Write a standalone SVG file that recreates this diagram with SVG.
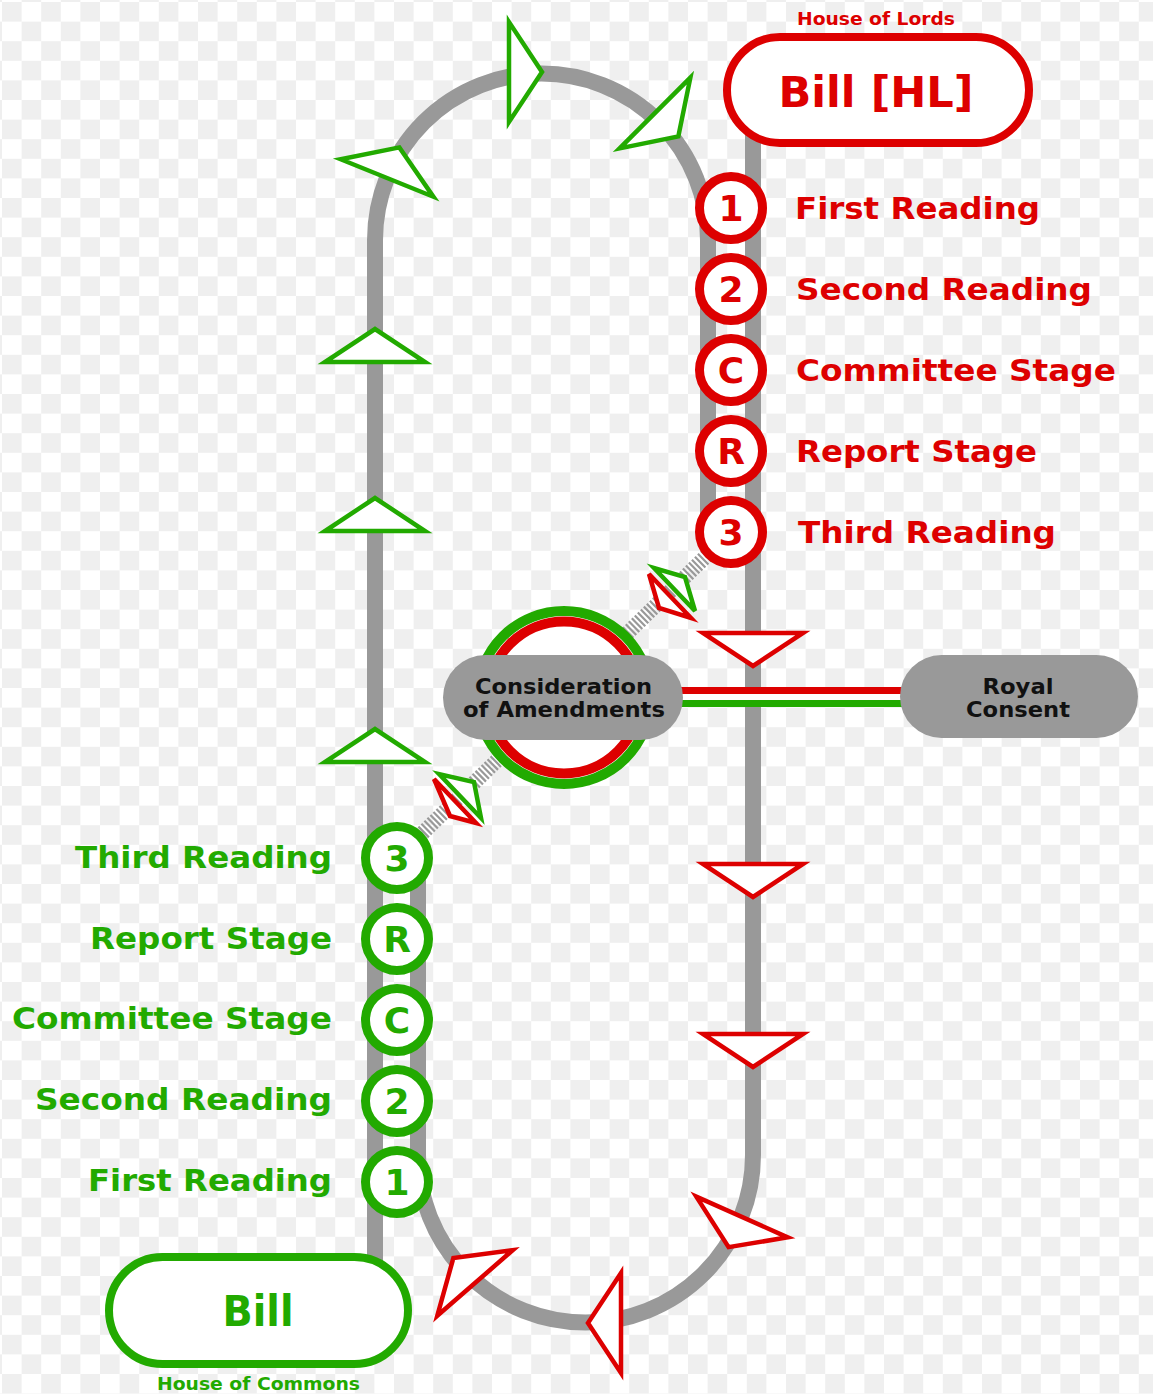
<svg xmlns="http://www.w3.org/2000/svg" xmlns:xlink="http://www.w3.org/1999/xlink" width="1153" height="1394" viewBox="0 0 1153 1394">
<style>
.track{fill:none;stroke:#999999;stroke-width:16}
.hatch{fill:none;stroke:#999999;stroke-width:15;stroke-dasharray:2.2 2}
.ga{fill:#ffffff;stroke:#22aa00;stroke-width:4.5;stroke-linejoin:miter}
.ra{fill:#ffffff;stroke:#dd0000;stroke-width:4.5;stroke-linejoin:miter}
.rc{fill:#ffffff;stroke:#dd0000;stroke-width:9}
.gc{fill:#ffffff;stroke:#22aa00;stroke-width:9}
.t{font-family:"DejaVu Sans","Verdana",sans-serif;font-weight:bold}
.red{fill:#dd0000}
.green{fill:#22aa00}
.dark{fill:#111111}
.pill{fill:#999999}
</style>
<defs>
<pattern id="cb" x="2" y="2" width="39.2" height="39.2" patternUnits="userSpaceOnUse">
<rect x="0" y="0" width="39.2" height="39.2" fill="#ffffff"/>
<rect x="0" y="0" width="19.6" height="19.6" fill="#efefef"/>
<rect x="19.6" y="19.6" width="19.6" height="19.6" fill="#efefef"/>
</pattern>
<polygon id="arr" points="0,-50 0,50 33,0"/>
</defs>
<rect x="0" y="0" width="1153" height="1394" fill="url(#cb)"/>

<g id="connectors">
<path class="track" d="M375,1300 L375,240 A166.5,166.5 0 0 1 708,240 L708,532"/>
<path class="track" d="M753,100 L753,1155 A167.5,167.5 0 0 1 418,1155 L418,858"/>
<line class="hatch" x1="731" y1="532" x2="397" y2="858"/>
<g id="arrows-green">
<use xlink:href="#arr" class="ga" transform="translate(375,362) rotate(-90)"/>
<use xlink:href="#arr" class="ga" transform="translate(375,531) rotate(-90)"/>
<use xlink:href="#arr" class="ga" transform="translate(375,762) rotate(-90)"/>
<use xlink:href="#arr" class="ga" transform="translate(387,178) rotate(-68)"/>
<use xlink:href="#arr" class="ga" transform="translate(509,72) rotate(0)"/>
<use xlink:href="#arr" class="ga" transform="translate(655,113) rotate(45)"/>
</g>
<g id="arrows-red">
<use xlink:href="#arr" class="ra" transform="translate(753,633) rotate(90)"/>
<use xlink:href="#arr" class="ra" transform="translate(753,864) rotate(90)"/>
<use xlink:href="#arr" class="ra" transform="translate(753,1034) rotate(90)"/>
<use xlink:href="#arr" class="ra" transform="translate(742,1217) rotate(114)"/>
<use xlink:href="#arr" class="ra" transform="translate(621,1323) rotate(180)"/>
<use xlink:href="#arr" class="ra" transform="translate(475,1283) rotate(-131)"/>
</g>
<g id="arrows-diagonal">
<polygon class="ga" points="654,568 695,611 685,577"/>
<polygon class="ra" points="649,574 691,618 659,608"/>
<polygon class="ga" points="439,774 481,818 474,782"/>
<polygon class="ra" points="434,779 476,823 450,816"/>
</g>
<line x1="600" y1="697" x2="905" y2="697" stroke="#ffffff" stroke-width="20"/>
<line x1="600" y1="690.5" x2="905" y2="690.5" stroke="#dd0000" stroke-width="7"/>
<line x1="600" y1="703.5" x2="905" y2="703.5" stroke="#22aa00" stroke-width="7"/>
</g>

<g id="consideration">
<circle cx="564" cy="697.5" r="86.5" fill="#ffffff" stroke="#22aa00" stroke-width="10"/>
<circle cx="564" cy="697.5" r="76" fill="#ffffff" stroke="#dd0000" stroke-width="10"/>
<rect class="pill" x="443" y="655" width="240" height="85" rx="42.5"/>
<text class="t dark" font-size="21" text-anchor="middle" x="563.5" y="694" textLength="177" lengthAdjust="spacingAndGlyphs">Consideration</text>
<text class="t dark" font-size="21" text-anchor="middle" x="564" y="717" textLength="202" lengthAdjust="spacingAndGlyphs">of Amendments</text>
</g>

<g id="royal-consent">
<rect class="pill" x="900" y="655" width="238" height="83" rx="41.5"/>
<text class="t dark" font-size="21" text-anchor="middle" x="1018" y="694" textLength="71" lengthAdjust="spacingAndGlyphs">Royal</text>
<text class="t dark" font-size="21" text-anchor="middle" x="1018" y="717" textLength="104" lengthAdjust="spacingAndGlyphs">Consent</text>
</g>

<g id="bill-hl">
<text class="t red" font-size="18" text-anchor="middle" x="876" y="25" textLength="158" lengthAdjust="spacingAndGlyphs">House of Lords</text>
<rect x="727" y="37" width="302" height="106" rx="53" fill="#ffffff" stroke="#dd0000" stroke-width="8"/>
<text class="t red" font-size="43" text-anchor="middle" x="876" y="107" textLength="195" lengthAdjust="spacingAndGlyphs">Bill [HL]</text>
</g>

<g id="bill">
<rect x="109" y="1257" width="299" height="107" rx="53.5" fill="#ffffff" stroke="#22aa00" stroke-width="8"/>
<text class="t green" font-size="42" text-anchor="middle" x="258" y="1326" textLength="71" lengthAdjust="spacingAndGlyphs">Bill</text>
<text class="t green" font-size="18" text-anchor="middle" x="258.5" y="1390" textLength="203" lengthAdjust="spacingAndGlyphs">House of Commons</text>
</g>

<g id="lords-first-reading">
<circle class="rc" cx="731" cy="208" r="31.5"/>
<text class="t red" font-size="36" text-anchor="middle" x="731" y="221">1</text>
<text class="t red" font-size="30" x="795" y="219" textLength="245" lengthAdjust="spacingAndGlyphs">First Reading</text>
</g>
<g id="lords-second-reading">
<circle class="rc" cx="731" cy="289" r="31.5"/>
<text class="t red" font-size="36" text-anchor="middle" x="731" y="302">2</text>
<text class="t red" font-size="30" x="796" y="300" textLength="296" lengthAdjust="spacingAndGlyphs">Second Reading</text>
</g>
<g id="lords-committee-stage">
<circle class="rc" cx="731" cy="370" r="31.5"/>
<text class="t red" font-size="36" text-anchor="middle" x="731" y="383">C</text>
<text class="t red" font-size="30" x="796" y="381" textLength="320" lengthAdjust="spacingAndGlyphs">Committee Stage</text>
</g>
<g id="lords-report-stage">
<circle class="rc" cx="731" cy="451" r="31.5"/>
<text class="t red" font-size="36" text-anchor="middle" x="731" y="464">R</text>
<text class="t red" font-size="30" x="796" y="462" textLength="241" lengthAdjust="spacingAndGlyphs">Report Stage</text>
</g>
<g id="lords-third-reading">
<circle class="rc" cx="731" cy="532" r="31.5"/>
<text class="t red" font-size="36" text-anchor="middle" x="731" y="545">3</text>
<text class="t red" font-size="30" x="798" y="543" textLength="258" lengthAdjust="spacingAndGlyphs">Third Reading</text>
</g>

<g id="commons-third-reading">
<circle class="gc" cx="397" cy="858" r="31.5"/>
<text class="t green" font-size="36" text-anchor="middle" x="397" y="871">3</text>
<text class="t green" font-size="30" text-anchor="end" x="332" y="868" textLength="257" lengthAdjust="spacingAndGlyphs">Third Reading</text>
</g>
<g id="commons-report-stage">
<circle class="gc" cx="397" cy="939" r="31.5"/>
<text class="t green" font-size="36" text-anchor="middle" x="397" y="952">R</text>
<text class="t green" font-size="30" text-anchor="end" x="332" y="949" textLength="242" lengthAdjust="spacingAndGlyphs">Report Stage</text>
</g>
<g id="commons-committee-stage">
<circle class="gc" cx="397" cy="1020" r="31.5"/>
<text class="t green" font-size="36" text-anchor="middle" x="397" y="1033">C</text>
<text class="t green" font-size="30" text-anchor="end" x="332" y="1029" textLength="320" lengthAdjust="spacingAndGlyphs">Committee Stage</text>
</g>
<g id="commons-second-reading">
<circle class="gc" cx="397" cy="1101" r="31.5"/>
<text class="t green" font-size="36" text-anchor="middle" x="397" y="1114">2</text>
<text class="t green" font-size="30" text-anchor="end" x="332" y="1110" textLength="297" lengthAdjust="spacingAndGlyphs">Second Reading</text>
</g>
<g id="commons-first-reading">
<circle class="gc" cx="397" cy="1182" r="31.5"/>
<text class="t green" font-size="36" text-anchor="middle" x="397" y="1195">1</text>
<text class="t green" font-size="30" text-anchor="end" x="332" y="1191" textLength="244" lengthAdjust="spacingAndGlyphs">First Reading</text>
</g>
</svg>
